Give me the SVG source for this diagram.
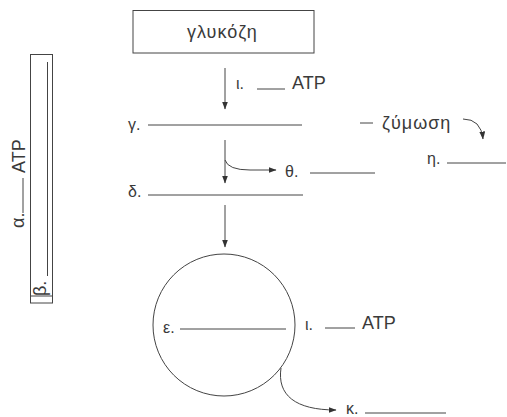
<svg xmlns="http://www.w3.org/2000/svg" width="507" height="417" viewBox="0 0 507 417">
<style>
text{font-family:"Liberation Sans",Arial,sans-serif;fill:#3a3a3a}
.t{font-size:16px}
.w{font-size:18px;letter-spacing:1px}
.big{font-size:18px}
.ln{stroke:#444;stroke-width:1;fill:none}
.ar{stroke:#444;stroke-width:1;fill:none;marker-end:url(#ah)}
</style>
<defs>
<marker id="ah" viewBox="0 0 8 6" refX="7.5" refY="3" markerWidth="8" markerHeight="6" markerUnits="userSpaceOnUse" orient="auto">
<path d="M0,0 L8,3 L0,6 Z" fill="#333"/>
</marker>
</defs>
<rect width="507" height="417" fill="#fff"/>
<g id="glucose">
<rect x="133" y="10.5" width="181" height="42.5" class="ln"/>
<text x="187" y="38" class="w">γλυκόζη</text>
</g>
<g id="atp-i-top">
<text x="236" y="89" class="t">ι.</text>
<line x1="257" y1="89" x2="285" y2="89" class="ln"/>
<text x="292" y="89" class="big">ATP</text>
</g>
<g id="gamma">
<text x="128" y="130" class="t">γ.</text>
<line x1="148" y1="125" x2="302" y2="125" class="ln"/>
</g>
<g id="zymosi">
<line x1="360" y1="123" x2="373" y2="123" class="ln"/>
<text x="382" y="129" class="w">ζύμωση</text>
</g>
<g id="eta">
<text x="427" y="164" class="t">η.</text>
<line x1="447" y1="163" x2="506" y2="163" class="ln"/>
</g>
<g id="theta">
<text x="285" y="177" class="t">θ.</text>
<line x1="310" y1="173" x2="375" y2="173" class="ln"/>
</g>
<g id="delta">
<text x="128" y="197" class="t">δ.</text>
<line x1="148" y1="195" x2="303" y2="195" class="ln"/>
</g>
<g id="mito">
<circle cx="224" cy="325" r="71" class="ln"/>
<text x="163" y="333" class="t">ε.</text>
<line x1="180" y1="329" x2="286" y2="329" class="ln"/>
</g>
<g id="atp-i-bottom">
<text x="305" y="330" class="t">ι.</text>
<line x1="325" y1="328" x2="355" y2="328" class="ln"/>
<text x="362" y="329" class="big">ATP</text>
</g>
<g id="kappa">
<text x="346" y="414" class="t">κ.</text>
<line x1="365" y1="413" x2="446" y2="413" class="ln"/>
</g>
<g id="membrane">
<rect x="30.5" y="54.5" width="22" height="248.5" class="ln"/>
<line x1="47.5" y1="62" x2="47.5" y2="276" class="ln"/>
<line x1="30.5" y1="296" x2="52.5" y2="296" class="ln"/>
<text transform="translate(46,296) rotate(-90)" class="big">β.</text>
<text transform="translate(24,228) rotate(-90)" class="big">α.</text>
<line x1="23" y1="178" x2="23" y2="213" class="ln"/>
<text transform="translate(25,173) rotate(-90)" class="big">ATP</text>
</g>
<g id="connectors">
<line x1="225" y1="68" x2="225" y2="109" class="ar"/>
<line x1="225" y1="140" x2="225" y2="183" class="ar"/>
<path d="M225,160 Q228,170 250,170 L276,170" class="ar"/>
<line x1="225" y1="205" x2="225" y2="247" class="ar"/>
<path d="M463,119 Q481,119 483,139" class="ar"/>
<path d="M281,368 C277,395 295,410 336,410" class="ar"/>
</g>
</svg>
